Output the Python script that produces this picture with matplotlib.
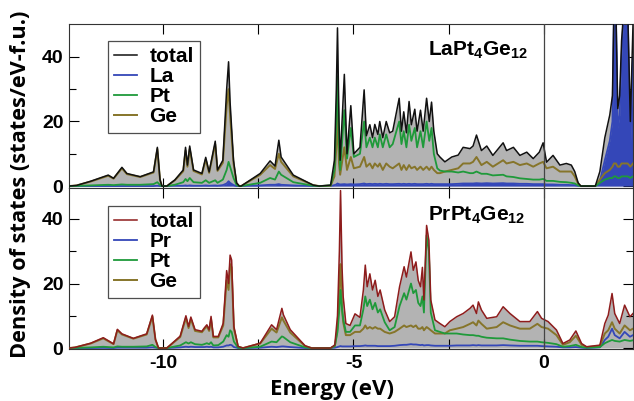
import numpy as np
import matplotlib
matplotlib.use("Agg")
import matplotlib.pyplot as plt
from matplotlib.ticker import FixedLocator

# ---------------- data ----------------
# Top panel: LaPt4Ge12
E_top = [-12.47, -12.27, -11.9, -11.44, -11.30, -11.08, -10.95, -10.6, -10.25, -10.15,
         -10.08, -10.03, -9.9, -9.69, -9.47, -9.41, -9.36, -9.30, -9.2, -8.98,
         -8.88, -8.79, -8.63, -8.57, -8.43, -8.33, -8.28, -8.24, -8.15, -8.07,
         -8.0, -7.95, -7.45, -7.19, -7.06, -6.96, -6.9, -6.58, -6.06, -5.9,
         -5.6, -5.5, -5.45, -5.42, -5.38, -5.35, -5.24, -5.17, -5.07, -4.99,
         -4.83, -4.72, -4.66, -4.57, -4.50, -4.44, -4.36, -4.31, -4.23, -4.14,
         -4.05, -3.97, -3.80, -3.74, -3.68, -3.61, -3.54, -3.48, -3.39, -3.33,
         -3.24, -3.17, -3.08, -3.01, -2.95, -2.89, -2.80, -2.73, -2.6, -2.42,
         -2.25, -2.12, -1.94, -1.86, -1.77, -1.64, -1.50, -1.34, -1.07, -0.98,
         -0.80, -0.63, -0.45, -0.28, -0.12, -0.02, 0.07, 0.24, 0.42, 0.59,
         0.72, 0.81, 0.90, 0.97, 1.35, 1.47, 1.60, 1.73, 1.80, 1.84,
         1.89, 1.94, 1.99, 2.04, 2.10, 2.20, 2.27, 2.34]
total_top = [0, 0.2, 1.5, 3.4, 2.4, 5.8, 3.9, 2.9, 4.4, 12,
             2, 0, 0, 1.9, 5, 12, 6.5, 12.4, 5, 3.9,
             8.9, 4.4, 13.9, 5, 8, 30, 38.5, 26, 8, 1,
             0, 0, 3.9, 7.8, 6.2, 14.2, 9, 3.4, 0.3, 0,
             0.3, 8, 30, 49, 20, 8, 34.6, 10, 24.9, 10,
             12, 29.8, 15.6, 19, 15, 19.1, 16, 20, 15, 20,
             16.5, 17, 27.2, 17, 23, 16.5, 26.2, 19, 23.8, 17,
             23.5, 17, 27.2, 20, 26, 17, 10, 9, 7.5, 9,
             9.6, 12, 11.6, 12.4, 15.8, 11, 12.4, 9.5, 13.4, 11,
             12, 9.5, 10.5, 8.5, 10.5, 13.4, 7.4, 9.5, 6.5, 7,
             6.5, 4.5, 1, 0, 0, 4.5, 15, 22, 28, 55,
             55, 24, 28, 45, 55, 55, 20, 50]
la_top = [0, 0, 0, 0, 0, 0, 0, 0, 0, 0.1,
          0, 0, 0, 0.1, 0.1, 0.2, 0.1, 0.2, 0.1, 0.1,
          0.2, 0.1, 0.2, 0.1, 0.3, 0.8, 1.5, 1.0, 0.3, 0,
          0, 0, 0.2, 0.4, 0.4, 0.6, 0.4, 0.2, 0, 0,
          0, 0.3, 0.5, 0.8, 0.6, 0.5, 0.6, 0.5, 0.6, 0.5,
          0.6, 0.8, 0.6, 0.7, 0.6, 0.7, 0.6, 0.7, 0.6, 0.7,
          0.6, 0.6, 0.7, 0.6, 0.7, 0.6, 0.7, 0.6, 0.7, 0.6,
          0.6, 0.6, 0.7, 0.6, 0.7, 0.6, 0.6, 0.6, 0.6, 0.6,
          0.7, 0.8, 0.8, 0.8, 0.9, 0.8, 0.9, 0.8, 0.9, 0.8,
          0.8, 0.7, 0.7, 0.6, 0.6, 0.6, 0.5, 0.5, 0.4, 0.4,
          0.3, 0.3, 0.1, 0, 0, 1.5, 8, 14, 20, 55,
          55, 18, 22, 40, 55, 55, 12, 40]
pt_top = [0, 0.05, 0.2, 0.4, 0.3, 0.5, 0.4, 0.4, 0.6, 1.2,
          0.3, 0, 0, 0.4, 1.2, 2.2, 1.5, 2.5, 1.2, 1.0,
          1.8, 1.0, 1.8, 1.0, 2.0, 5.0, 7.5, 6, 2.5, 0.3,
          0, 0, 1.0, 2.5, 2.0, 4.5, 3.5, 1.2, 0.1, 0,
          0.2, 5, 20, 34, 14, 5, 23.5, 8.5, 18, 9,
          10, 20, 12, 15, 12, 15, 12, 16, 12, 16,
          12, 13, 20, 13, 17, 12, 19, 14, 18, 12,
          17, 12, 20, 14, 18, 10, 5.5, 4.8, 4.5, 4.5,
          4.2, 4.5, 4.0, 4.0, 4.5, 3.8, 3.8, 3.3, 3.5, 3.0,
          2.8, 2.4, 2.2, 2.0, 2.0, 2.2, 1.6, 1.6, 1.3, 1.2,
          1.0, 0.8, 0.2, 0, 0, 1.0, 2.0, 2.5, 2.5, 3,
          3, 2.5, 2.5, 3, 3, 3, 2.5, 3]
ge_top = [0, 0.2, 1.4, 3.2, 2.3, 5.5, 3.7, 2.8, 4.2, 11.5,
          1.9, 0, 0, 1.8, 4.6, 11, 6, 11.5, 4.7, 3.6,
          8.2, 4.1, 13, 4.7, 7.2, 25, 30, 22, 7, 0.9,
          0, 0, 3.5, 6.5, 5.3, 10, 7.5, 3.0, 0.3, 0,
          0.1, 3, 12, 22, 7, 3.5, 12, 5, 9, 5.5,
          6, 9, 6, 7, 5.5, 7, 6, 7, 5, 7,
          6, 5.5, 7, 5, 6.5, 5, 6.5, 5.5, 6, 5,
          6, 5, 6, 5, 6, 5, 4, 4, 4.5, 5,
          5.5, 7, 7, 7.5, 9, 6.5, 7.5, 6, 8, 7,
          7.5, 6.5, 7, 6, 7, 7.5, 5.5, 6, 4.5, 4.5,
          4.5, 3, 0.7, 0, 0, 2, 4, 5, 6, 7,
          7, 6, 6, 7, 7, 7, 6, 7]

# Bottom panel: PrPt4Ge12
E_bot = [-12.47, -12.31, -11.9, -11.57, -11.30, -11.20, -11.08, -10.78, -10.43, -10.28,
         -10.20, -10.12, -9.90, -9.55, -9.40, -9.33, -9.27, -9.16, -8.98, -8.92,
         -8.85, -8.79, -8.74, -8.68, -8.55, -8.42, -8.33, -8.28, -8.24, -8.20,
         -8.14, -8.03, -7.90, -7.45, -7.15, -7.02, -6.88, -6.84, -6.66, -6.27,
         -6.1, -5.60, -5.49, -5.42, -5.37, -5.34, -5.30, -5.27, -5.20, -5.09,
         -4.96, -4.83, -4.74, -4.69, -4.64, -4.57, -4.50, -4.43, -4.36, -4.30,
         -4.18, -4.05, -3.92, -3.79, -3.67, -3.61, -3.49, -3.43, -3.36, -3.30,
         -3.24, -3.19, -3.15, -3.08, -3.02, -2.97, -2.86, -2.73, -2.60, -2.47,
         -2.29, -2.12, -1.94, -1.86, -1.77, -1.72, -1.64, -1.50, -1.24, -1.07,
         -0.89, -0.63, -0.37, -0.17, -0.06, 0.11, 0.33, 0.50, 0.68, 0.84,
         0.99, 1.12, 1.47, 1.60, 1.69, 1.79, 1.86, 1.99, 2.12, 2.26, 2.34]
total_bot = [0, 0.2, 1.5, 3.2, 1.3, 5.8, 4.4, 3.0, 4.4, 10.2,
             2.7, 0, 0, 3.7, 10, 6.7, 9.6, 5.7, 5.2, 6.2,
             7.2, 5.7, 9.8, 3.6, 3.6, 7.7, 24, 20, 28.8, 27.3,
             6.7, 0.5, 0, 1.5, 7.2, 5.7, 12.3, 10.3, 5.7, 0.7,
             0, 0, 1, 10, 30, 48.8, 25, 15.9, 7.6, 7,
             10.6, 9.5, 18, 25.7, 19, 23, 18, 21, 16, 18,
             11.8, 8.2, 9.7, 19, 25.2, 22, 29.8, 24.1, 26.7, 21,
             19, 25, 14.9, 38, 33.4, 14.9, 8.7, 7.6, 6.6, 8.2,
             9.7, 10.7, 12.3, 13.3, 10.7, 14.3, 11.8, 9.2, 9.7, 12.8,
             10.7, 8.2, 8.2, 11.3, 9.2, 8.2, 5.6, 1.4, 2.5, 5.3,
             1.4, 0.4, 0.9, 7.6, 10.2, 16.9, 10.7, 7.6, 13.3, 9.7, 10.7]
pr_bot = [0, 0, 0, 0.05, 0, 0.1, 0.1, 0.1, 0.1, 0.2,
          0.1, 0, 0, 0.2, 0.4, 0.3, 0.4, 0.3, 0.3, 0.3,
          0.4, 0.3, 0.4, 0.2, 0.2, 0.4, 0.8, 0.8, 1.0, 0.9,
          0.3, 0, 0, 0.1, 0.4, 0.3, 0.5, 0.5, 0.3, 0,
          0, 0, 0.1, 0.3, 0.5, 0.6, 0.5, 0.5, 0.5, 0.5,
          0.6, 0.6, 0.7, 0.8, 0.7, 0.7, 0.7, 0.7, 0.6, 0.6,
          0.6, 0.6, 0.7, 0.9, 1.0, 1.0, 1.2, 1.1, 1.1, 1.0,
          0.9, 1.0, 0.8, 0.9, 0.9, 0.8, 0.7, 0.7, 0.7, 0.7,
          0.8, 0.8, 0.8, 0.9, 0.8, 0.9, 0.8, 0.8, 0.8, 0.9,
          0.8, 0.7, 0.7, 0.7, 0.6, 0.5, 0.4, 0.2, 0.2, 0.3,
          0.1, 0, 0.2, 2.5, 3.5, 6, 4, 3, 5, 3.5, 4]
pt_bot = [0, 0.05, 0.2, 0.4, 0.2, 0.5, 0.4, 0.4, 0.5, 1.0,
          0.3, 0, 0, 0.8, 1.8, 1.4, 1.8, 1.2, 1.0, 1.2,
          1.5, 1.2, 1.8, 0.8, 0.9, 2.0, 4.0, 3.5, 5.5, 5.0,
          2.0, 0.1, 0, 0.4, 2.0, 1.8, 3.6, 3.4, 1.8, 0.2,
          0, 0, 0.6, 5, 12, 18, 12, 9, 5, 5,
          7, 7, 12, 16, 13, 15, 12, 14, 11, 12,
          8, 5.5, 6.5, 13, 17, 15, 20, 17, 18, 14,
          13, 16, 11, 35, 30, 11, 5.5, 5, 4.5, 4.5,
          4.5, 4.2, 4.0, 4.0, 3.8, 3.8, 3.5, 3.2, 3.0, 3.0,
          2.6, 2.2, 2.0, 2.0, 1.8, 1.6, 1.2, 0.4, 0.6, 1.0,
          0.3, 0.1, 0.3, 1.5, 2.0, 2.5, 2.2, 2.0, 2.5, 2.2, 2.4]
ge_bot = [0, 0.2, 1.4, 3.0, 1.2, 5.5, 4.2, 2.9, 4.2, 9.8,
          2.6, 0, 0, 3.4, 9.3, 6.2, 9, 5.3, 4.9, 5.8,
          6.7, 5.3, 9, 3.3, 3.3, 7, 21, 18, 26, 25,
          6, 0.4, 0, 1.4, 6, 4.8, 9.5, 8.5, 4.8, 0.6,
          0, 0, 0.6, 6, 20, 26, 12, 8, 4, 4,
          5, 5, 6, 7, 6, 6.5, 6, 6.5, 6, 6,
          5, 4.5, 5, 6, 7, 6.5, 7, 6.5, 7, 6,
          6, 6.5, 5.5, 6.5, 6, 5.5, 4.5, 4.5, 4.5, 5.5,
          6, 6.5, 7.5, 8, 7, 8.5, 7.5, 6, 6.5, 8,
          7, 6, 6, 7.5, 6.5, 6, 4, 1, 1.8, 3.8,
          1, 0.3, 0.6, 4.5, 5.5, 8, 6, 4.5, 7, 5.5, 6]

labels_top = ["total", "La", "Pt", "Ge"]
labels_bot = ["total", "Pr", "Pt", "Ge"]
title_top = r"$\mathbf{LaPt_4Ge_{12}}$"
title_bot = r"$\mathbf{PrPt_4Ge_{12}}$"
xticks_major = [-10, -5, 0]
xticks_minor = [-12.5, -7.5, -2.5]
yticks_major = [0, 20, 40]
yticks_minor = [10, 30]

# ---------------- style ----------------
plt.rcParams["mathtext.fontset"] = "custom"
plt.rcParams["mathtext.bf"] = "Liberation Sans:bold"
plt.rcParams["mathtext.rm"] = "Liberation Sans:bold"
plt.rcParams["font.family"] = ["Liberation Sans", "DejaVu Sans"]
plt.rcParams["font.weight"] = "bold"
plt.rcParams["axes.unicode_minus"] = False

W, H = 634, 401
fig = plt.figure(figsize=(W / 100, H / 100), dpi=100)

def axrect(x0, y0, x1, y1):
    return [x0 / W, 1 - y1 / H, (x1 - x0) / W, (y1 - y0) / H]

ax1 = fig.add_axes(axrect(69, 24, 633, 188))
ax2 = fig.add_axes(axrect(69, 188, 633, 349))

C_GRAY = "#b3b3b3"
C_BLUE = "#3447b8"
C_GREEN = "#1f9a3a"
C_OLIVE = "#86752a"

def panel(ax, E, tot, part0, pt, ge, tot_color, labels, fill_part0):
    E = np.asarray(E)
    ax.fill_between(E, 0, tot, color=C_GRAY, lw=0, zorder=1)
    if fill_part0:
        ax.fill_between(E, 0, part0, color=C_BLUE, lw=0, zorder=2)
    l_tot, = ax.plot(E, tot, color=tot_color, lw=1.1, zorder=6, label=labels[0])
    l_p0, = ax.plot(E, part0, color=C_BLUE, lw=1.3, zorder=3, label=labels[1])
    l_ge, = ax.plot(E, ge, color=C_OLIVE, lw=1.4, zorder=4, label=labels[3])
    l_pt, = ax.plot(E, pt, color=C_GREEN, lw=1.3, zorder=5, label=labels[2])
    ax.axvline(0, color="#444444", lw=0.9, zorder=7)
    return [l_tot, l_p0, l_pt, l_ge]

h1 = panel(ax1, E_top, total_top, la_top, pt_top, ge_top, "#111111", labels_top, True)
h2 = panel(ax2, E_bot, total_bot, pr_bot, pt_bot, ge_bot, "#8e1c1c", labels_bot, False)

for ax in (ax1, ax2):
    ax.set_xlim(-12.47, 2.34)
    ax.xaxis.set_major_locator(FixedLocator(xticks_major))
    ax.xaxis.set_minor_locator(FixedLocator(xticks_minor))
    ax.yaxis.set_major_locator(FixedLocator(yticks_major))
    ax.yaxis.set_minor_locator(FixedLocator(yticks_minor))
    ax.tick_params(which="both", direction="in", top=True, right=True, width=0.8,
                   labelsize=14, pad=4)
    ax.tick_params(which="major", length=7)
    ax.tick_params(which="minor", length=5)
    ax.tick_params(axis="x", which="minor", length=7)
    for s in ax.spines.values():
        s.set_linewidth(0.8)
        s.set_color("#333333")
    for t in ax.get_yticklabels() + ax.get_xticklabels():
        t.set_fontweight("bold")

ax1.set_ylim(-0.6, 50.2)
ax2.set_ylim(-0.3, 49.6)
ax1.tick_params(axis="x", labelbottom=False)

leg_kw = dict(loc="upper left", borderaxespad=0, handlelength=1.1,
              handletextpad=0.6, labelspacing=0.05, borderpad=0.3, frameon=True,
              fancybox=False, edgecolor="#222222", prop={"weight": "bold", "size": 15})
lg1 = ax1.legend(h1, labels_top, bbox_to_anchor=(0.069, 0.896), **leg_kw)
lg2 = ax2.legend(h2, labels_bot, bbox_to_anchor=(0.069, 0.888), **leg_kw)
for lg in (lg1, lg2):
    lg.get_frame().set_linewidth(0.9)
    lg.set_zorder(10)

ax1.text(0.637, 0.902, title_top, transform=ax1.transAxes, ha="left", va="top",
         fontsize=15, zorder=10)
ax2.text(0.637, 0.894, title_bot, transform=ax2.transAxes, ha="left", va="top",
         fontsize=15, zorder=10)

fig.text(21 / W, 1 - 184 / H, "Density of states (states/eV-f.u.)", rotation=90,
         ha="center", va="center", fontsize=15.7, fontweight="bold",
         family=["Open Sans", "DejaVu Sans"])
fig.text(332 / W, 1 - 389 / H, "Energy (eV)", ha="center", va="center",
         fontsize=16, fontweight="bold", family=["Open Sans", "DejaVu Sans"])

fig.savefig("out.png", dpi=100)
